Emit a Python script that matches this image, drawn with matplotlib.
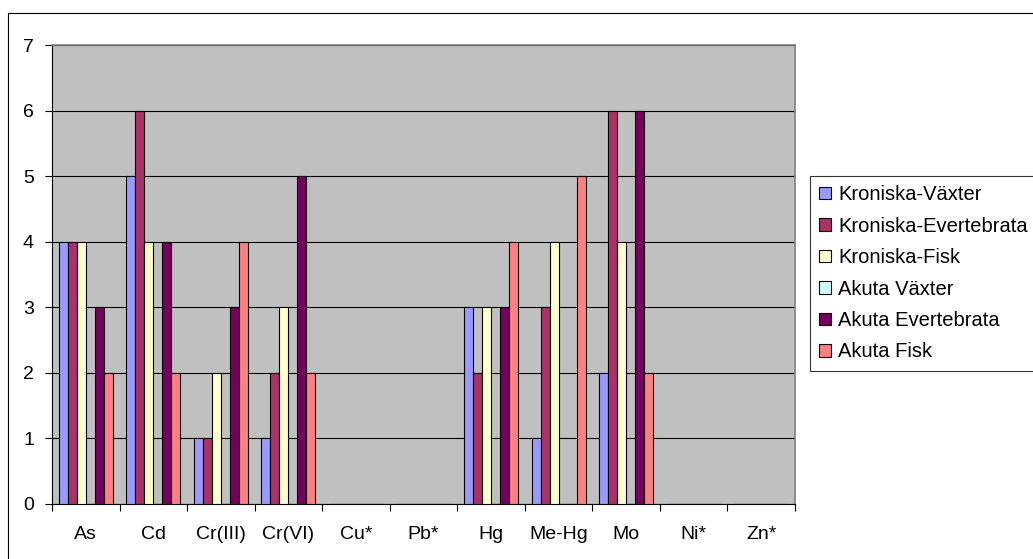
import numpy as np
import matplotlib
matplotlib.use("Agg")
import matplotlib.pyplot as plt
from matplotlib.patches import Rectangle

plt.rcParams['font.family'] = ['Liberation Sans', 'DejaVu Sans']

categories = ['As', 'Cd', 'Cr(III)', 'Cr(VI)', 'Cu*', 'Pb*', 'Hg', 'Me-Hg', 'Mo', 'Ni*', 'Zn*']
series_names = ['Kroniska-Växter', 'Kroniska-Evertebrata', 'Kroniska-Fisk',
                'Akuta Växter', 'Akuta Evertebrata', 'Akuta Fisk']
kron_vaxter = [4, 5, 1, 1, 0, 0, 3, 1, 2, 0, 0]
kron_evert = [4, 6, 1, 2, 0, 0, 2, 3, 6, 0, 0]
kron_fisk = [4, 4, 2, 3, 0, 0, 3, 4, 4, 0, 0]
akut_vaxter = [0, 0, 0, 0, 0, 0, 0, 0, 0, 0, 0]
akut_evert = [3, 4, 3, 5, 0, 0, 3, 0, 6, 0, 0]
akut_fisk = [2, 2, 4, 2, 0, 0, 4, 5, 2, 0, 0]
colors = ['#9999FF', '#AE3068', '#FFFFCC', '#CCFFFF', '#760060', '#FF8080']

values = [kron_vaxter, kron_evert, kron_fisk, akut_vaxter, akut_evert, akut_fisk]

fig = plt.figure(figsize=(10.33, 5.59), dpi=100)
W, H = 1033, 559
ax = fig.add_axes([52 / W, 1 - 504 / H, (795 - 52) / W, (504 - 45) / H])
ax.set_facecolor('#C0C0C0')

x = np.arange(len(categories))
bw = 1 / 7.5
for i, (vals, name, c) in enumerate(zip(values, series_names, colors)):
    pos = x + (i - 2.5) * bw
    v = np.array(vals, dtype=float)
    ax.bar(pos, v, width=bw, color=c, edgecolor='black', linewidth=0.8,
           label=name, zorder=3)

ax.set_xlim(-0.5, len(categories) - 0.5)
ax.set_ylim(0, 7)
ax.set_yticks(range(0, 8))
ax.set_xticks(x)
ax.set_xticklabels(categories, fontsize=14)
ax.tick_params(axis='x', length=0, pad=16)
ax.set_xticks(np.arange(-0.5, len(categories)), minor=True)
ax.tick_params(axis='x', which='minor', length=5, direction='out', width=0.8)
ax.tick_params(axis='y', length=5, direction='out', width=0.8, labelsize=14, pad=8)
ax.yaxis.grid(True, color='black', linewidth=0.8, zorder=1)
ax.set_axisbelow(True)
for s in ['top', 'right']:
    ax.spines[s].set_color('#808080')
    ax.spines[s].set_linewidth(1.2)
for s in ['left', 'bottom']:
    ax.spines[s].set_color('black')
    ax.spines[s].set_linewidth(0.8)

# outer chart border (runs off the right and bottom edges)
fig.patches.append(Rectangle((8 / W, -0.1), 1.2, 1 - 13 / H + 0.1, transform=fig.transFigure,
                             fill=False, edgecolor='black', linewidth=0.8))

leg = fig.legend(loc='upper left', bbox_to_anchor=(810 / W, 1 - 176 / H),
                 fontsize=14.5, frameon=True, fancybox=False, edgecolor='black',
                 handlelength=0.6, handleheight=0.6, handletextpad=0.35,
                 labelspacing=0.62, borderpad=0.45, borderaxespad=0)
leg.get_frame().set_linewidth(0.8)

fig.savefig('out.png', dpi=100)
